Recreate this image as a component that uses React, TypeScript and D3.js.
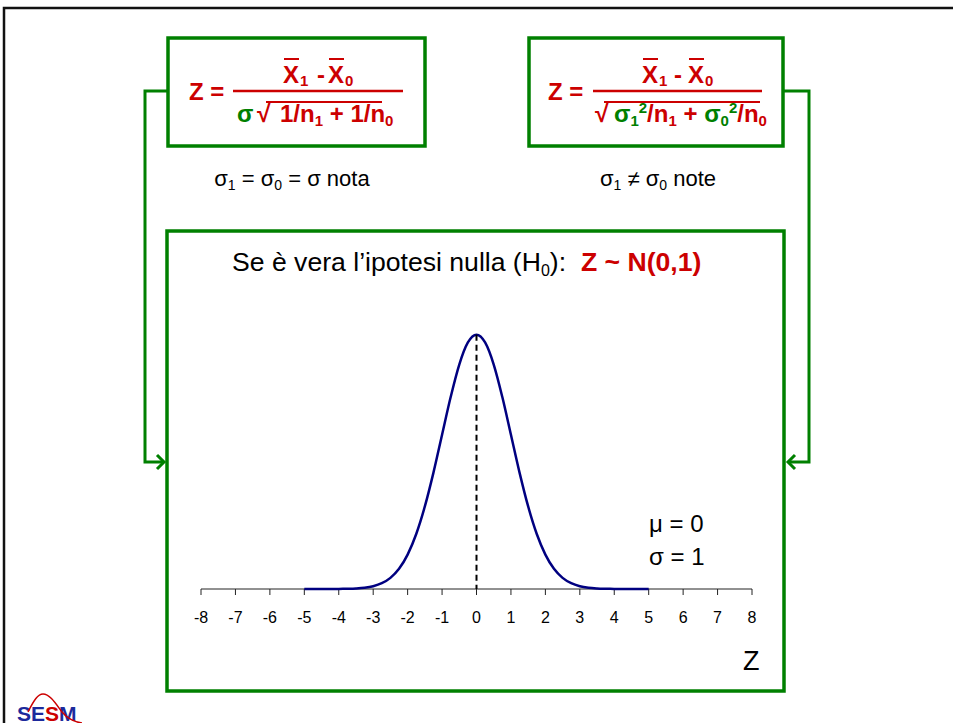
import React from "react";
import * as d3 from "d3";

// ---------- data ----------
const zValues = [
  -5, -4.75, -4.5, -4.25, -4, -3.75, -3.5, -3.25, -3, -2.75, -2.5, -2.25, -2,
  -1.75, -1.5, -1.25, -1, -0.75, -0.5, -0.25, 0, 0.25, 0.5, 0.75, 1, 1.25, 1.5,
  1.75, 2, 2.25, 2.5, 2.75, 3, 3.25, 3.5, 3.75, 4, 4.25, 4.5, 4.75, 5,
];
const densityValues = [
  0, 0, 0, 0, 0.0001, 0.0004, 0.0009, 0.002, 0.0044, 0.0091, 0.0175, 0.0317,
  0.054, 0.0863, 0.1295, 0.1826, 0.242, 0.3011, 0.3521, 0.3867, 0.3989, 0.3867,
  0.3521, 0.3011, 0.242, 0.1826, 0.1295, 0.0863, 0.054, 0.0317, 0.0175, 0.0091,
  0.0044, 0.002, 0.0009, 0.0004, 0.0001, 0, 0, 0, 0,
];
const tickValues = [-8, -7, -6, -5, -4, -3, -2, -1, 0, 1, 2, 3, 4, 5, 6, 7, 8];
const meanValue = 0;
const peakValue = 0.3989;

const FONT = "'Liberation Sans', Arial, sans-serif";
const RED = "#cc0000";
const GREEN = "#008000";
const NAVY = "#000080";

export default function App() {
  const x = d3.scaleLinear().domain([-8, 8]).range([201, 752]);
  const y = d3.scaleLinear().domain([0, 0.4]).range([589, 334]);
  const pts = zValues.map((z, i) => [z, densityValues[i]] as [number, number]);
  const line = d3
    .line<[number, number]>()
    .x((d) => x(d[0]))
    .y((d) => y(d[1]))
    .curve(d3.curveMonotoneX);

  return (
    <svg
      width={953}
      height={723}
      style={{ position: "absolute", left: 0, top: 0, background: "#fff" }}
      fontFamily={FONT}
    >
      <rect x={0} y={0} width={953} height={723} fill="#fff" />
      {/* outer frame */}
      <path d="M4,723 V8 H953" fill="none" stroke="#111" strokeWidth={2.5} />

      {/* boxes */}
      <rect x={168} y={38} width={257} height={108} fill="none" stroke={GREEN} strokeWidth={3.5} />
      <rect x={529} y={38} width={254} height={108} fill="none" stroke={GREEN} strokeWidth={3.5} />
      <rect x={167} y={231} width={617} height={460} fill="none" stroke={GREEN} strokeWidth={3.5} />

      {/* connectors */}
      <path d="M168,91 H145 V462 H164" fill="none" stroke={GREEN} strokeWidth={3} />
      <path d="M157,455 L164,462 L157,469" fill="none" stroke={GREEN} strokeWidth={3} />
      <path d="M783,91 H809 V462 H788" fill="none" stroke={GREEN} strokeWidth={3} />
      <path d="M795,455 L788,462 L795,469" fill="none" stroke={GREEN} strokeWidth={3} />

      {/* left formula */}
      <g fill={RED} fontWeight="bold">
        <text x={189} y={100} fontSize={24}>Z =</text>
        <line x1={233} x2={403} y1={91} y2={91} stroke={RED} strokeWidth={2.5} />
        <text x={283} y={83} fontSize={24}>X</text>
        <text x={300} y={86} fontSize={15}>1</text>
        <text x={317} y={83} fontSize={24}>-</text>
        <text x={328} y={83} fontSize={24}>X</text>
        <text x={345} y={86} fontSize={15}>0</text>
        <line x1={284} x2={299} y1={59} y2={59} stroke={RED} strokeWidth={2} />
        <line x1={329} x2={344} y1={59} y2={59} stroke={RED} strokeWidth={2} />
        <text x={237} y={122} fontSize={24} fill={GREEN}>σ</text>
        <text x={257} y={122} fontSize={25}>√</text>
        <line x1={266} x2={382} y1={102} y2={102} stroke={RED} strokeWidth={2} />
        <text x={280} y={122} fontSize={24}>
          1/n<tspan fontSize={15} dy={4}>1</tspan>
          <tspan dy={-4}>{"\u00a0+\u00a01/n"}</tspan>
          <tspan fontSize={15} dy={4}>0</tspan>
        </text>
      </g>

      {/* right formula */}
      <g fill={RED} fontWeight="bold">
        <text x={548} y={100} fontSize={24}>Z =</text>
        <line x1={593} x2={762} y1={91} y2={91} stroke={RED} strokeWidth={2.5} />
        <text x={642} y={83} fontSize={24}>X</text>
        <text x={659} y={86} fontSize={15}>1</text>
        <text x={674} y={83} fontSize={24}>-</text>
        <text x={688} y={83} fontSize={24}>X</text>
        <text x={705} y={86} fontSize={15}>0</text>
        <line x1={643} x2={658} y1={59} y2={59} stroke={RED} strokeWidth={2} />
        <line x1={689} x2={704} y1={59} y2={59} stroke={RED} strokeWidth={2} />
        <text x={595} y={122} fontSize={25}>√</text>
        <line x1={604} x2={760} y1={102} y2={102} stroke={RED} strokeWidth={2} />
        <text x={614} y={122} fontSize={24}>
          <tspan fill={GREEN}>σ</tspan>
          <tspan fill={GREEN} fontSize={15} dy={4}>1</tspan>
          <tspan fill={GREEN} fontSize={15} dy={-13}>2</tspan>
          <tspan dy={9}>/n</tspan>
          <tspan fontSize={15} dy={4}>1</tspan>
          <tspan dy={-4}>{"\u00a0+\u00a0"}</tspan>
          <tspan fill={GREEN}>σ</tspan>
          <tspan fill={GREEN} fontSize={15} dy={4}>0</tspan>
          <tspan fill={GREEN} fontSize={15} dy={-13}>2</tspan>
          <tspan dy={9}>/n</tspan>
          <tspan fontSize={15} dy={4}>0</tspan>
        </text>
      </g>

      {/* captions under formulas */}
      <text x={292} y={186} fontSize={22} textAnchor="middle" fill="#000">
        σ<tspan fontSize={14} dy={4}>1</tspan>
        <tspan dy={-4}>{"\u00a0=\u00a0σ"}</tspan>
        <tspan fontSize={14} dy={4}>0</tspan>
        <tspan dy={-4}>{"\u00a0=\u00a0σ\u00a0nota"}</tspan>
      </text>
      <text x={658} y={186} fontSize={22} textAnchor="middle" fill="#000">
        σ<tspan fontSize={14} dy={4}>1</tspan>
        <tspan dy={-4}>{"\u00a0≠\u00a0σ"}</tspan>
        <tspan fontSize={14} dy={4}>0</tspan>
        <tspan dy={-4}>{"\u00a0note"}</tspan>
      </text>

      {/* title inside main box */}
      <text x={232} y={271} fontSize={26.6} fill="#000">
        Se è vera l’ipotesi nulla (H<tspan fontSize={16} dy={5}>0</tspan>
        <tspan dy={-5}>{"):\u00a0\u00a0"}</tspan>
        <tspan fill={RED} fontWeight="bold">Z ~ N(0,1)</tspan>
      </text>

      {/* axis */}
      <line x1={x(-8)} x2={x(8)} y1={589} y2={589} stroke="#222" strokeWidth={1} />
      {tickValues.map((t) => (
        <g key={t}>
          <line x1={x(t)} x2={x(t)} y1={589} y2={595} stroke="#222" strokeWidth={1} />
          <text x={x(t)} y={623} fontSize={16} textAnchor="middle" fill="#000">
            {t}
          </text>
        </g>
      ))}

      {/* curve */}
      <path d={line(pts) || ""} fill="none" stroke={NAVY} strokeWidth={2.5} />
      <line
        x1={x(meanValue)}
        x2={x(meanValue)}
        y1={y(peakValue)}
        y2={y(0)}
        stroke="#000"
        strokeWidth={2}
        strokeDasharray="6,4"
      />

      {/* parameters */}
      <text x={649} y={532} fontSize={24} fill="#000">μ = 0</text>
      <text x={649} y={565} fontSize={24} fill="#000">σ = 1</text>
      <text x={743} y={670} fontSize={27} fill="#000">Z</text>

      {/* logo */}
      <g>
        <text x={17} y={721} fontSize={21} fontWeight={900} fill="#1c2a9c">
          SE<tspan fill={RED}>S</tspan>M
        </text>
        <path
          d="M28,712 C34,700 38,694 43,694 C50,694 56,704 62,712 C68,719 74,722 82,723"
          fill="none"
          stroke={RED}
          strokeWidth={1.5}
        />
      </g>
    </svg>
  );
}
